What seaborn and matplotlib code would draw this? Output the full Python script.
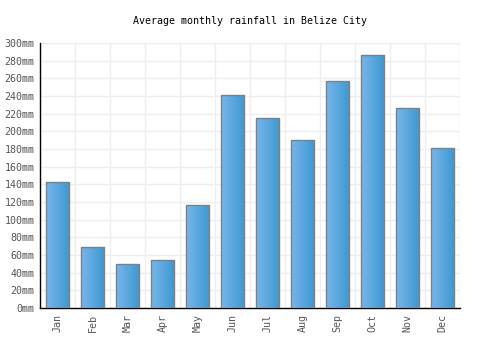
import numpy as np
import pandas as pd
import matplotlib
matplotlib.use("Agg")
import matplotlib.pyplot as plt
import seaborn as sns
from matplotlib.colors import LinearSegmentedColormap

months = ["Jan", "Feb", "Mar", "Apr", "May", "Jun", "Jul", "Aug", "Sep", "Oct", "Nov", "Dec"]
rainfall = [143, 69, 50, 54, 117, 241, 215, 190, 257, 287, 226, 181]
yticks = list(range(0, 301, 20))
ytick_labels = [f"{v}mm" for v in yticks]
title = "Average monthly rainfall in Belize City"

sns.set_style("white")
plt.rcParams['font.family'] = ['DejaVu Sans Mono']

fig = plt.figure(figsize=(5, 3.5), dpi=100)
ax = fig.add_axes([0.08, 0.12, 0.84, 0.757])

df = pd.DataFrame({"month": months, "rain": rainfall})
sns.barplot(data=df, x="month", y="rain", ax=ax, width=0.68,
            color="#5aa8e0", edgecolor="#808080", linewidth=1, saturation=1, zorder=3)

cmap = LinearSegmentedColormap.from_list("g", ["#78b6ea", "#3d98d2"])
grad = np.linspace(0, 1, 64).reshape(1, -1)
for p in ax.patches:
    x0, y0 = p.get_x(), p.get_y()
    w, h = p.get_width(), p.get_height()
    im = ax.imshow(grad, cmap=cmap, aspect="auto", extent=[x0, x0 + w, y0, y0 + h],
                   zorder=3.5, interpolation="bicubic")
    im.set_clip_path(p)
    p.set_facecolor("none")
    p.set_zorder(4)

ax.set_xlim(-0.5, 11.5)
ax.set_ylim(0, 300)
ax.set_yticks(yticks)
ax.set_yticklabels(ytick_labels)
ax.set_xticks(range(len(months)))
ax.set_xticklabels(months, rotation=90)
ax.set_xticks(np.arange(-0.5, 12, 1), minor=True)
ax.grid(False)
ax.yaxis.grid(True, color="#eeeeee", linewidth=1, zorder=0)
ax.xaxis.grid(True, which="minor", color="#eeeeee", linewidth=1, zorder=0)
ax.set_axisbelow(True)
ax.tick_params(axis="both", which="both", length=0, labelsize=7.2, labelcolor="#555555", pad=4)
ax.set_xlabel("")
ax.set_ylabel("")
for s in ["top", "right"]:
    ax.spines[s].set_visible(False)
ax.spines["left"].set_color("black")
ax.spines["bottom"].set_color("black")
ax.spines["left"].set_linewidth(1)
ax.spines["bottom"].set_linewidth(1)
ax.axhline(300, color="#eeeeee", linewidth=1, zorder=0)
ax.axvline(11.5, color="#eeeeee", linewidth=1, zorder=0)

fig.text(0.5, 1 - 21 / 350, title, ha="center", va="center", fontsize=7.2, color="black")

fig.savefig("out.png", dpi=100, facecolor="white")
